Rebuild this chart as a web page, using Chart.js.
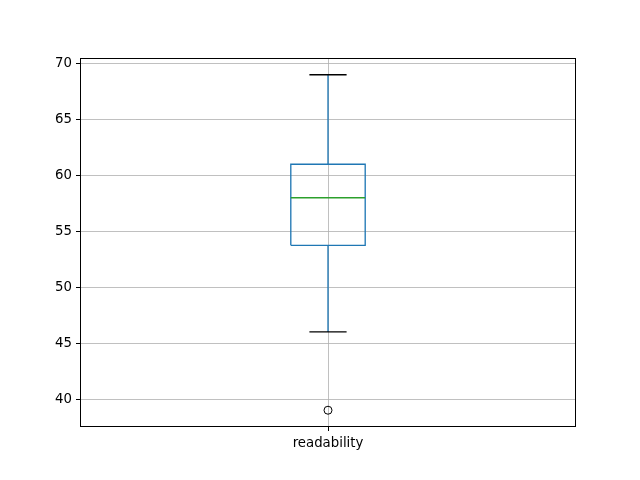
<!DOCTYPE html>
<html>
<head>
<meta charset="utf-8">
<script src="https://cdn.jsdelivr.net/npm/chart.js@4.4.0/dist/chart.umd.min.js"></script>
<style>
  html, body { margin: 0; background: #fff; }
  #wrap { width: 640px; height: 480px; }
</style>
</head>
<body>
<div id="wrap"><canvas id="c"></canvas></div>
<script>
// values
var labels = ['readability'];
var whiskerLow = [46];
var q1 = [53.75];
var median = [58];
var q3 = [61];
var whiskerHigh = [69];
var outliers = [[39]];
var yTicks = [40, 45, 50, 55, 60, 65, 70];

var BLUE = '#1f77b4', GREEN = '#2ca02c';
var boxHalf = 0.075, capHalf = 0.0375;
var lw = 1.33;

function seg(pts, color) {
  return {
    type: 'line', data: pts, borderColor: color, borderWidth: lw,
    pointRadius: 0, fill: false, tension: 0, showLine: true
  };
}

var datasets = [];
labels.forEach(function (l, i) {
  var x = i + 1;
  // whiskers
  datasets.push(seg([{x: x, y: q3[i]}, {x: x, y: whiskerHigh[i]}], BLUE));
  datasets.push(seg([{x: x, y: q1[i]}, {x: x, y: whiskerLow[i]}], BLUE));
  // caps
  datasets.push(seg([{x: x - capHalf, y: whiskerHigh[i]}, {x: x + capHalf, y: whiskerHigh[i]}], '#000'));
  datasets.push(seg([{x: x - capHalf, y: whiskerLow[i]}, {x: x + capHalf, y: whiskerLow[i]}], '#000'));
  // box
  datasets.push(seg([
    {x: x - boxHalf, y: q1[i]}, {x: x + boxHalf, y: q1[i]},
    {x: x + boxHalf, y: q3[i]}, {x: x - boxHalf, y: q3[i]},
    {x: x - boxHalf, y: q1[i]}
  ], BLUE));
  // median
  datasets.push(seg([{x: x - boxHalf, y: median[i]}, {x: x + boxHalf, y: median[i]}], GREEN));
  // fliers
  datasets.push({
    type: 'scatter',
    data: outliers[i].map(function (v) { return {x: x, y: v}; }),
    borderColor: '#000', backgroundColor: 'rgba(0,0,0,0)',
    borderWidth: 1, pointRadius: 4, pointStyle: 'circle'
  });
});
// chart.js paints the first dataset last, so flip it: caps end up over whiskers
datasets.reverse();

// the axes frame, all four sides like matplotlib
var frame = {
  id: 'frame',
  afterDatasetsDraw: function (chart) {
    var a = chart.chartArea, ctx = chart.ctx;
    ctx.save();
    ctx.strokeStyle = '#000';
    ctx.lineWidth = 1;
    ctx.strokeRect(Math.round(a.left) + 0.5, Math.round(a.top) + 0.5,
      Math.round(a.right - a.left) - 1, Math.round(a.bottom - a.top) - 1);
    ctx.restore();
  }
};

var font = { family: 'DejaVu Sans', size: 13.3 };

new Chart(document.getElementById('c'), {
  data: { datasets: datasets },
  options: {
    responsive: true,
    maintainAspectRatio: false,
    animation: false,
    layout: { padding: { top: 58, right: 64, left: 0, bottom: 0 } },
    plugins: { legend: { display: false }, tooltip: { enabled: false } },
    scales: {
      x: {
        type: 'linear', min: 0.5, max: 1.5,
        afterBuildTicks: function (s) {
          s.ticks = labels.map(function (l, i) { return {value: i + 1}; });
        },
        afterFit: function (s) { s.height = 53; },
        ticks: {
          color: '#000', font: font, padding: 5, maxRotation: 0,
          callback: function (v) { return labels[Math.round(v) - 1]; }
        },
        grid: { color: '#b0b0b0', lineWidth: 0.8, tickColor: '#000', tickLength: 4, tickWidth: 1 },
        border: { display: false }
      },
      y: {
        type: 'linear', min: 37.5, max: 70.5,
        afterBuildTicks: function (s) {
          s.ticks = yTicks.map(function (v) { return {value: v}; });
        },
        afterFit: function (s) { s.width = 80; },
        ticks: { color: '#000', font: font, padding: 4 },
        grid: { color: '#b0b0b0', lineWidth: 0.8, tickColor: '#000', tickLength: 4, tickWidth: 1 },
        border: { display: false }
      }
    }
  },
  plugins: [frame]
});
</script>
</body>
</html>
